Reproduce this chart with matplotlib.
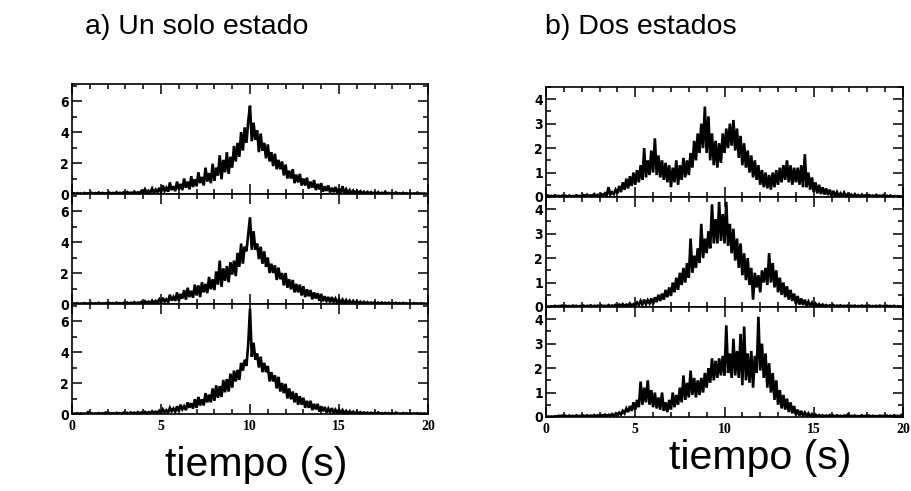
import numpy as np
import matplotlib
matplotlib.use('Agg')
import matplotlib.pyplot as plt
from matplotlib.ticker import MultipleLocator

# Señales de intensidad, una muestra cada 0.1 s entre 0 y 20 s
# a) un solo estado: tres realizaciones
un_estado_1 = [
    0.02, 0.05, 0.01, 0.06, 0.02, 0.04, 0.01, 0.07, 0.02, 0.05,
    0.03, 0.08, 0.02, 0.06, 0.03, 0.10, 0.02, 0.07, 0.03, 0.05,
    0.02, 0.09, 0.03, 0.07, 0.02, 0.12, 0.03, 0.08, 0.04, 0.10,
    0.03, 0.13, 0.04, 0.09, 0.05, 0.16, 0.04, 0.11, 0.06, 0.20,
    0.05, 0.30, 0.08, 0.22, 0.10, 0.35, 0.07, 0.28, 0.12, 0.40,
    0.10, 0.55, 0.20, 0.40, 0.15, 0.75, 0.25, 0.50, 0.18, 0.80,
    0.30, 0.65, 0.25, 1.00, 0.40, 0.80, 0.30, 1.15, 0.45, 0.95,
    0.50, 1.40, 0.70, 1.10, 0.55, 1.70, 0.80, 1.35, 0.70, 1.95,
    0.85, 1.70, 1.20, 2.50, 0.95, 2.20, 1.40, 2.70, 1.30, 2.40,
    1.70, 3.10, 2.10, 3.30, 2.40, 4.00, 2.80, 4.30, 3.30, 4.70,
    5.70, 3.40, 4.60, 3.50, 4.10, 2.70, 3.90, 2.80, 3.30, 2.30,
    3.20, 2.10, 2.70, 1.80, 2.60, 1.60, 2.20, 1.60, 2.10, 1.20,
    1.90, 1.00, 1.50, 1.00, 1.60, 0.70, 1.25, 0.75, 1.30, 0.55,
    1.00, 0.55, 1.05, 0.35, 0.80, 0.40, 0.90, 0.25, 0.65, 0.30,
    0.70, 0.15, 0.50, 0.20, 0.55, 0.10, 0.40, 0.12, 0.45, 0.06,
    0.35, 0.06, 0.50, 0.05, 0.30, 0.04, 0.25, 0.05, 0.22, 0.03,
    0.20, 0.04, 0.18, 0.03, 0.15, 0.02, 0.14, 0.03, 0.12, 0.02,
    0.10, 0.02, 0.12, 0.01, 0.08, 0.02, 0.15, 0.01, 0.07, 0.02,
    0.06, 0.01, 0.10, 0.02, 0.05, 0.01, 0.08, 0.02, 0.05, 0.01,
    0.06, 0.01, 0.04, 0.02, 0.09, 0.01, 0.04, 0.02, 0.03, 0.01,
    0.02,
]
un_estado_2 = [
    0.01, 0.04, 0.02, 0.05, 0.01, 0.03, 0.02, 0.06, 0.01, 0.04,
    0.02, 0.06, 0.01, 0.05, 0.02, 0.08, 0.01, 0.05, 0.02, 0.06,
    0.02, 0.07, 0.03, 0.06, 0.02, 0.09, 0.03, 0.06, 0.02, 0.08,
    0.03, 0.10, 0.02, 0.08, 0.04, 0.12, 0.03, 0.09, 0.05, 0.14,
    0.04, 0.18, 0.06, 0.15, 0.05, 0.22, 0.08, 0.20, 0.10, 0.30,
    0.08, 0.40, 0.15, 0.30, 0.12, 0.60, 0.22, 0.45, 0.20, 0.75,
    0.20, 0.65, 0.35, 0.90, 0.28, 1.05, 0.45, 0.85, 0.40, 1.25,
    0.55, 1.20, 0.45, 1.40, 0.75, 1.30, 0.70, 1.75, 0.95, 1.60,
    0.90, 2.10, 1.25, 2.80, 1.10, 2.30, 1.50, 2.45, 1.40, 2.70,
    1.90, 2.80, 1.80, 3.30, 2.40, 3.90, 2.60, 3.70, 3.40, 4.50,
    5.60, 3.50, 4.70, 3.50, 3.90, 2.90, 3.70, 2.60, 3.40, 2.40,
    3.00, 2.00, 2.60, 2.00, 2.50, 1.55, 2.35, 1.60, 2.00, 1.20,
    2.00, 1.05, 1.60, 0.95, 1.55, 0.75, 1.30, 0.75, 1.25, 0.55,
    1.15, 0.45, 0.95, 0.50, 0.90, 0.30, 0.75, 0.35, 0.70, 0.20,
    0.65, 0.18, 0.50, 0.20, 0.45, 0.10, 0.45, 0.12, 0.35, 0.06,
    0.30, 0.06, 0.28, 0.05, 0.25, 0.04, 0.22, 0.04, 0.20, 0.03,
    0.18, 0.03, 0.15, 0.02, 0.14, 0.03, 0.12, 0.02, 0.10, 0.02,
    0.12, 0.02, 0.09, 0.01, 0.10, 0.02, 0.08, 0.01, 0.09, 0.02,
    0.07, 0.01, 0.08, 0.02, 0.06, 0.01, 0.07, 0.02, 0.05, 0.01,
    0.06, 0.01, 0.05, 0.02, 0.04, 0.01, 0.05, 0.02, 0.03, 0.01,
    0.02,
]
un_estado_3 = [
    0.01, 0.03, 0.02, 0.05, 0.01, 0.04, 0.02, 0.03, 0.01, 0.12,
    0.02, 0.05, 0.01, 0.04, 0.02, 0.06, 0.01, 0.05, 0.02, 0.10,
    0.02, 0.06, 0.03, 0.05, 0.02, 0.08, 0.03, 0.06, 0.02, 0.09,
    0.03, 0.08, 0.02, 0.10, 0.04, 0.09, 0.03, 0.12, 0.04, 0.10,
    0.04, 0.14, 0.05, 0.12, 0.06, 0.18, 0.07, 0.15, 0.08, 0.22,
    0.06, 0.30, 0.12, 0.25, 0.08, 0.40, 0.18, 0.35, 0.15, 0.50,
    0.18, 0.60, 0.30, 0.50, 0.25, 0.75, 0.40, 0.70, 0.35, 0.95,
    0.40, 1.10, 0.55, 0.95, 0.55, 1.35, 0.75, 1.25, 0.75, 1.65,
    0.85, 1.85, 1.05, 1.80, 1.10, 2.20, 1.40, 2.25, 1.45, 2.60,
    1.70, 2.80, 2.10, 2.85, 2.20, 3.30, 2.80, 3.50, 3.10, 4.50,
    6.80, 3.70, 4.60, 3.50, 3.90, 3.00, 3.70, 2.70, 3.30, 2.70,
    3.10, 2.10, 2.70, 2.10, 2.50, 1.65, 2.40, 1.45, 2.00, 1.35,
    1.95, 1.00, 1.65, 0.95, 1.45, 0.75, 1.35, 0.60, 1.15, 0.60,
    1.05, 0.40, 0.85, 0.40, 0.85, 0.25, 0.65, 0.30, 0.65, 0.15,
    0.50, 0.18, 0.45, 0.10, 0.35, 0.12, 0.38, 0.06, 0.28, 0.08,
    0.28, 0.05, 0.25, 0.04, 0.20, 0.04, 0.18, 0.03, 0.15, 0.03,
    0.13, 0.02, 0.12, 0.02, 0.10, 0.03, 0.09, 0.02, 0.08, 0.02,
    0.08, 0.01, 0.10, 0.02, 0.06, 0.01, 0.07, 0.02, 0.06, 0.01,
    0.05, 0.01, 0.09, 0.02, 0.04, 0.01, 0.06, 0.02, 0.05, 0.01,
    0.06, 0.01, 0.04, 0.02, 0.05, 0.01, 0.04, 0.02, 0.03, 0.01,
    0.01,
]

# b) dos estados: tres realizaciones
dos_estados_1 = [
    0.02, 0.06, 0.03, 0.05, 0.02, 0.07, 0.03, 0.05, 0.02, 0.06,
    0.03, 0.05, 0.02, 0.06, 0.03, 0.04, 0.02, 0.07, 0.03, 0.05,
    0.03, 0.08, 0.04, 0.10, 0.03, 0.07, 0.05, 0.12, 0.04, 0.09,
    0.05, 0.12, 0.06, 0.15, 0.05, 0.40, 0.10, 0.20, 0.12, 0.30,
    0.15, 0.45, 0.20, 0.60, 0.30, 0.75, 0.35, 0.85, 0.45, 1.00,
    0.50, 1.10, 0.60, 1.30, 0.70, 2.00, 0.80, 1.50, 0.90, 1.90,
    1.00, 2.40, 0.90, 1.70, 0.80, 1.50, 0.70, 1.40, 0.60, 1.30,
    0.40, 1.20, 0.60, 1.50, 0.50, 1.30, 0.70, 1.60, 0.80, 1.50,
    0.90, 1.80, 1.20, 2.30, 1.50, 2.60, 1.80, 3.00, 2.00, 3.70,
    1.80, 3.30, 1.50, 2.60, 1.30, 2.30, 1.20, 2.20, 1.40, 2.60,
    1.80, 2.80, 2.00, 3.00, 2.10, 3.15, 1.90, 2.80, 1.60, 2.50,
    1.30, 2.20, 1.20, 1.90, 1.00, 1.70, 0.80, 1.50, 0.70, 1.30,
    0.50, 1.10, 0.40, 1.00, 0.35, 0.90, 0.30, 1.00, 0.40, 1.10,
    0.50, 1.20, 0.60, 1.30, 0.70, 1.50, 0.60, 1.30, 0.50, 1.20,
    0.60, 1.20, 0.50, 1.30, 0.40, 1.75, 0.40, 1.00, 0.30, 0.80,
    0.20, 0.60, 0.15, 0.50, 0.12, 0.40, 0.10, 0.35, 0.08, 0.30,
    0.05, 0.25, 0.04, 0.20, 0.03, 0.15, 0.04, 0.18, 0.03, 0.12,
    0.03, 0.10, 0.02, 0.12, 0.03, 0.08, 0.02, 0.10, 0.03, 0.07,
    0.02, 0.08, 0.03, 0.06, 0.02, 0.09, 0.03, 0.06, 0.02, 0.08,
    0.03, 0.05, 0.02, 0.06, 0.02, 0.04, 0.02, 0.03, 0.02, 0.02,
    0.02,
]
dos_estados_2 = [
    0.01, 0.02, 0.01, 0.03, 0.02, 0.05, 0.02, 0.04, 0.03, 0.06,
    0.02, 0.05, 0.03, 0.04, 0.02, 0.06, 0.03, 0.05, 0.02, 0.04,
    0.03, 0.06, 0.02, 0.05, 0.03, 0.07, 0.02, 0.05, 0.03, 0.06,
    0.02, 0.07, 0.03, 0.05, 0.02, 0.08, 0.03, 0.06, 0.04, 0.09,
    0.03, 0.10, 0.05, 0.12, 0.04, 0.10, 0.06, 0.15, 0.05, 0.12,
    0.06, 0.18, 0.08, 0.25, 0.10, 0.30, 0.12, 0.28, 0.15, 0.35,
    0.12, 0.40, 0.20, 0.50, 0.25, 0.55, 0.30, 0.70, 0.40, 0.80,
    0.45, 1.00, 0.60, 1.20, 0.70, 1.40, 0.90, 1.60, 1.00, 1.80,
    1.20, 2.80, 1.40, 2.10, 1.60, 2.40, 1.80, 3.40, 2.00, 2.80,
    2.20, 3.10, 2.40, 4.20, 2.60, 3.60, 2.60, 4.30, 2.70, 3.80,
    2.60, 4.30, 2.50, 3.40, 2.20, 3.20, 1.90, 2.80, 1.60, 2.60,
    1.30, 2.20, 1.10, 2.00, 0.90, 1.60, 0.30, 1.40, 0.80, 1.30,
    0.60, 1.50, 1.00, 1.60, 0.90, 2.20, 1.00, 1.80, 0.80, 1.50,
    0.60, 1.20, 0.50, 1.00, 0.40, 0.85, 0.30, 0.70, 0.25, 0.55,
    0.12, 0.45, 0.10, 0.35, 0.08, 0.30, 0.06, 0.22, 0.05, 0.18,
    0.03, 0.14, 0.04, 0.12, 0.02, 0.10, 0.03, 0.08, 0.02, 0.07,
    0.03, 0.08, 0.02, 0.06, 0.03, 0.07, 0.02, 0.05, 0.03, 0.06,
    0.02, 0.05, 0.03, 0.06, 0.02, 0.04, 0.03, 0.06, 0.02, 0.05,
    0.03, 0.06, 0.02, 0.04, 0.03, 0.05, 0.02, 0.06, 0.03, 0.04,
    0.02, 0.05, 0.03, 0.04, 0.02, 0.05, 0.01, 0.03, 0.02, 0.02,
    0.02,
]
dos_estados_3 = [
    0.01, 0.02, 0.01, 0.02, 0.01, 0.03, 0.02, 0.05, 0.03, 0.06,
    0.03, 0.05, 0.02, 0.06, 0.03, 0.05, 0.02, 0.07, 0.03, 0.05,
    0.03, 0.06, 0.02, 0.07, 0.03, 0.06, 0.04, 0.08, 0.03, 0.07,
    0.04, 0.08, 0.05, 0.10, 0.04, 0.09, 0.06, 0.12, 0.05, 0.14,
    0.06, 0.18, 0.10, 0.25, 0.15, 0.35, 0.20, 0.45, 0.25, 0.60,
    0.30, 0.70, 0.40, 1.45, 0.50, 1.20, 0.60, 1.50, 0.50, 1.10,
    0.40, 1.00, 0.35, 0.80, 0.30, 1.00, 0.25, 0.60, 0.20, 0.70,
    0.30, 1.00, 0.40, 0.90, 0.50, 1.20, 0.60, 1.70, 0.70, 1.40,
    0.80, 1.90, 0.90, 1.60, 0.80, 1.50, 0.90, 1.60, 1.00, 1.80,
    1.20, 2.00, 1.40, 2.40, 1.50, 2.30, 1.60, 2.40, 1.70, 2.50,
    1.70, 3.75, 1.80, 2.60, 1.60, 3.20, 1.70, 2.70, 1.60, 3.40,
    1.30, 3.70, 1.50, 2.60, 1.40, 2.70, 1.20, 2.50, 1.80, 4.10,
    1.90, 3.00, 1.60, 2.60, 1.20, 2.20, 1.00, 1.80, 0.70, 1.50,
    0.50, 1.10, 0.35, 0.90, 0.30, 0.75, 0.20, 0.60, 0.15, 0.45,
    0.08, 0.30, 0.06, 0.25, 0.05, 0.18, 0.04, 0.15, 0.03, 0.12,
    0.02, 0.10, 0.03, 0.08, 0.02, 0.07, 0.03, 0.06, 0.02, 0.08,
    0.03, 0.06, 0.02, 0.07, 0.03, 0.05, 0.02, 0.06, 0.03, 0.10,
    0.02, 0.05, 0.03, 0.06, 0.02, 0.04, 0.03, 0.07, 0.02, 0.05,
    0.03, 0.06, 0.02, 0.05, 0.03, 0.04, 0.02, 0.06, 0.03, 0.05,
    0.02, 0.06, 0.03, 0.05, 0.02, 0.07, 0.03, 0.05, 0.02, 0.08,
    0.02,
]

titulos = ['a) Un solo estado', 'b) Dos estados']
etiqueta_x = 'tiempo (s)'
ticks_x = [0, 5, 10, 15, 20]
ticks_y_a = [0, 2, 4, 6]
ticks_y_b = [0, 1, 2, 3, 4]


def dibuja_columna(fig, left, tops, width, height, series, ymax, yticks, yminor):
    axes = []
    for k, (top, serie) in enumerate(zip(tops, series)):
        ax = fig.add_axes([left, 1 - top - height, width, height])
        t = np.linspace(0, 20, len(serie))
        ax.plot(t, serie, color='black', lw=1.9, solid_joinstyle='miter')
        ax.set_xlim(0, 20)
        ax.set_ylim(0, ymax)
        ax.set_xticks(ticks_x)
        ax.xaxis.set_minor_locator(MultipleLocator(1))
        ax.set_yticks(yticks)
        ax.yaxis.set_minor_locator(MultipleLocator(yminor))
        ax.tick_params(which='both', direction='in', top=True, right=True,
                       width=1.1, color='black')
        ax.tick_params(which='major', length=7)
        ax.tick_params(which='minor', length=3.5)
        ax.tick_params(axis='y', pad=2)
        ax.tick_params(axis='x', pad=4)
        for s in ax.spines.values():
            s.set_linewidth(1.2)
        for lab in ax.get_yticklabels():
            lab.set_fontfamily('DejaVu Sans')
            lab.set_fontstretch('condensed')
            lab.set_fontweight('bold')
            lab.set_fontsize(10)
        if k < len(series) - 1:
            ax.set_xticklabels([])
        else:
            for lab in ax.get_xticklabels():
                lab.set_fontfamily(['Liberation Serif', 'DejaVu Serif'])
                lab.set_fontweight('bold')
                lab.set_fontsize(10)
        axes.append(ax)
    return axes


fig = plt.figure(figsize=(9.12, 4.91), dpi=100)

alto = 110 / 491
dibuja_columna(fig, 72 / 912, [84 / 491, 194 / 491, 304 / 491], 356 / 912, alto,
               [un_estado_1, un_estado_2, un_estado_3], 7.1, ticks_y_a, 1)
dibuja_columna(fig, 546 / 912, [87 / 491, 197 / 491, 307 / 491], 357 / 912, alto,
               [dos_estados_1, dos_estados_2, dos_estados_3], 4.5, ticks_y_b, 0.5)

fuente = ['Liberation Sans', 'DejaVu Sans']
fig.text(197 / 912, 1 - 27 / 491, titulos[0], family=fuente, fontsize=20.5,
         ha='center', va='center')
fig.text(641 / 912, 1 - 27 / 491, titulos[1], family=fuente, fontsize=20.5,
         ha='center', va='center')
fig.text(256 / 912, 1 - 465 / 491, etiqueta_x, family=fuente, fontsize=29.5,
         ha='center', va='center')
fig.text(760 / 912, 1 - 458 / 491, etiqueta_x, family=fuente, fontsize=29.5,
         ha='center', va='center')

fig.savefig('out.png', dpi=100, facecolor='white')
